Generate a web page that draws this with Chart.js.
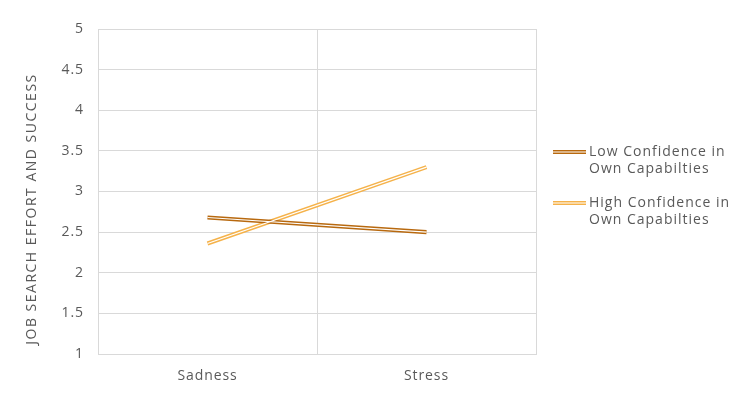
<!DOCTYPE html>
<html>
<head>
<meta charset="utf-8">
<script src="https://cdn.jsdelivr.net/npm/chart.js@4"></script>
<style>
    html, body { margin: 0; padding: 0; background: #fff; }
    #wrap { width: 754px; height: 398px; }
</style>
</head>
<body>
<div id="wrap"><canvas id="chart" width="754" height="398"></canvas></div>
<script>
const categories = ['Sadness', 'Stress'];
const lowConfidence = [2.68, 2.50];
const highConfidence = [2.36, 3.30];
const seriesNames = [['Low Confidence in', 'Own Capabilties'], ['High Confidence in', 'Own Capabilties']];
const yTicks = [1, 1.5, 2, 2.5, 3, 3.5, 4, 4.5, 5];
const yTitle = 'JOB SEARCH EFFORT AND SUCCESS';

const lowColor = '#B8690F';
const highColor = '#F5B24A';
const textColor = '#595959';
const fontFamily = '"Open Sans", Lato, sans-serif';

// each series is a wide coloured line with a thin white line on top
function doubleLine(data, color, name) {
    return [
        { label: name, data: data, borderColor: color, borderWidth: 4.2, pointRadius: 0, order: 2, fill: false },
        { label: '', data: data, borderColor: '#ffffff', borderWidth: 1.2, pointRadius: 0, order: 1, fill: false }
    ];
}

const extrasPlugin = {
    id: 'extras',
    beforeDraw(chart) {
        // wider text, closer to the original font
        chart.ctx.letterSpacing = '0.9px';
    },
    afterDraw(chart) {
        const ctx = chart.ctx;
        const items = [
            { color: lowColor, text: seriesNames[0], y: 152 },
            { color: highColor, text: seriesNames[1], y: 203 }
        ];
        ctx.save();
        ctx.font = '14px ' + fontFamily;
        ctx.letterSpacing = '1px';
        ctx.textBaseline = 'middle';
        items.forEach(item => {
            ctx.strokeStyle = item.color;
            ctx.lineWidth = 4.2;
            ctx.beginPath();
            ctx.moveTo(553, item.y);
            ctx.lineTo(586, item.y);
            ctx.stroke();
            ctx.strokeStyle = '#ffffff';
            ctx.lineWidth = 1.2;
            ctx.beginPath();
            ctx.moveTo(553, item.y);
            ctx.lineTo(586, item.y);
            ctx.stroke();
            ctx.fillStyle = textColor;
            item.text.forEach((line, i) => ctx.fillText(line, 589, item.y + i * 17));
        });

        // y axis title
        ctx.letterSpacing = '1.5px';
        ctx.translate(32, 209);
        ctx.rotate(-Math.PI / 2);
        ctx.textAlign = 'center';
        ctx.fillStyle = textColor;
        ctx.fillText(yTitle, 0, 0);
        ctx.restore();
    }
};

new Chart(document.getElementById('chart'), {
    type: 'line',
    data: {
        labels: categories,
        datasets: [
            ...doubleLine(lowConfidence, lowColor, seriesNames[0].join(' ')),
            ...doubleLine(highConfidence, highColor, seriesNames[1].join(' '))
        ]
    },
    options: {
        responsive: false,
        animation: false,
        layout: { padding: { top: 29, right: 218, left: 0, bottom: 0 } },
        plugins: {
            legend: { display: false },
            tooltip: { enabled: false }
        },
        scales: {
            x: {
                offset: true,
                grid: { offset: true, color: '#d9d9d9', drawTicks: false },
                border: { color: '#d9d9d9' },
                ticks: { color: textColor, font: { family: fontFamily, size: 14 }, padding: 14 },
                afterFit(scale) { scale.height = 44; }
            },
            y: {
                min: 1,
                max: 5,
                afterBuildTicks(scale) { scale.ticks = yTicks.map(v => ({ value: v })); },
                grid: { color: '#d9d9d9', drawTicks: false },
                border: { display: false },
                ticks: {
                    color: textColor,
                    font: { family: fontFamily, size: 14 },
                    padding: 14,
                    callback: value => String(value)
                },
                afterFit(scale) { scale.width = 98; }
            }
        }
    },
    plugins: [extrasPlugin]
});
</script>
</body>
</html>
